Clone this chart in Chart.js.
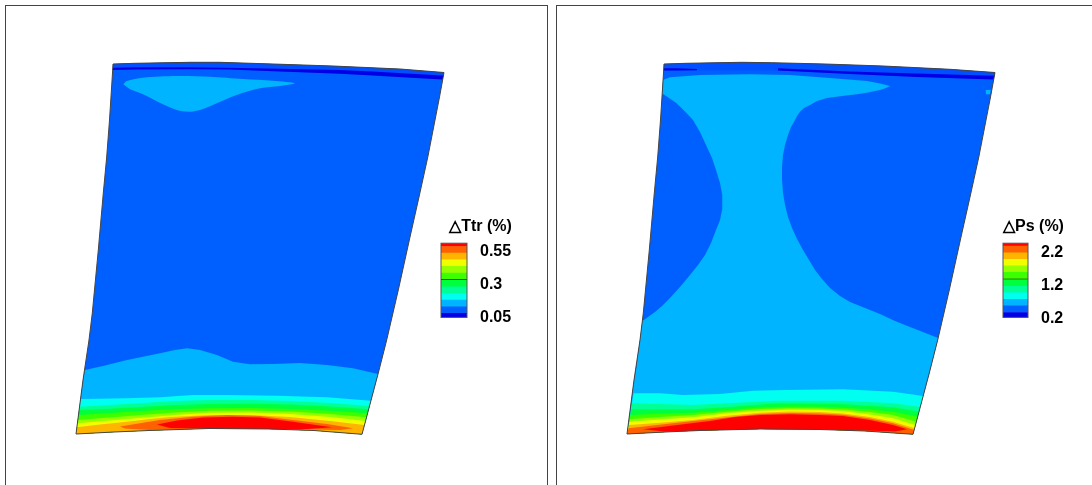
<!DOCTYPE html>
<html>
<head>
<meta charset="utf-8">
<title>Ttr and Ps contours</title>
<script src="https://cdn.jsdelivr.net/npm/chart.js@4"></script>
<style>
  html, body { margin: 0; padding: 0; background: #fff; overflow: hidden; }
  body { width: 1092px; height: 485px; position: relative; }
  canvas { position: absolute; }
  .frame { position: absolute; top: 5px; height: 480px; border-top: 1px solid #444; border-left: 1px solid #444; box-sizing: border-box; }
</style>
</head>
<body>
<div class="frame" style="left:5px;width:543px;border-right:1px solid #444"></div>
<div class="frame" style="left:556px;width:536px"></div>
<canvas id="campoTtr" width="552" height="485" style="left:0;top:0"></canvas>
<canvas id="campoPs" width="540" height="485" style="left:552px;top:0"></canvas>
<canvas id="barraTtr" width="90" height="135" style="left:430px;top:205px"></canvas>
<canvas id="barraPs" width="74" height="135" style="left:990px;top:205px"></canvas>
<script>
// Colores de los niveles, de menor a mayor
const colores = ["#0000e6", "#0060ff", "#00b4ff", "#00fff0", "#00ff96", "#00ff3c", "#3cff00", "#96ff00", "#f0ff00", "#ffb400", "#ff6000", "#ff0000"];
const colorFranja = "#0050ff";

// Barra de colores: ancho de cada banda y marcas
const bandasTtr = [0.07, 0.05, 0.05, 0.05, 0.05, 0.05, 0.05, 0.05, 0.05, 0.05, 0.05, 0.03];
const marcasTtr = [0.05, 0.3, 0.55];
const bandasPs = [0.32, 0.2, 0.2, 0.2, 0.2, 0.2, 0.2, 0.2, 0.2, 0.2, 0.2, 0.11];
const marcasPs = [0.2, 1.2, 2.2];

// ---- Campo Ttr (contornos)
const ttrSup = [[113,64],[135,63.3],[190,62.3],[220,62.3],[273,64],[333,66],[400,69],[444,72.5]];
const ttrDer = [[444,72.5],[439.5,97],[427.8,157],[419,197],[410,237],[398.3,290],[386.7,340],[378.3,373],[362,434.3]];
const ttrInf = [[362,434.3],[314,430.5],[269,429],[209,428.5],[149,430.5],[114,432],[76,434]];
const ttrIzq = [[76,434],[83,380],[89,340],[92.3,313],[98.3,250],[103.3,193],[106.7,157],[109.5,120],[112.7,70],[113,64]];

const ttrFranja = [[113,64],[135,63.3],[190,62.3],[220,62.3],[273,64],[333,66],[400,69],[444,72.5],[442.7,79.5],[407,77.5],[373,75.5],[340,73.7],[267,71],[230,69.5],[190,69.3],[135,69.5],[112.7,70]];
const ttrNavy = [[113,67.7],[135,67.2],[190,67.2],[240,68],[267,68.5],[340,70],[373,71.5],[407,73.5],[443.3,75.5],[442.7,79.5],[407,77.5],[373,75.5],[340,73.7],[267,71],[230,69.5],[190,69.3],[135,69.5],[112.7,70]];
const ttrManchaSup = [[123.3,84.3],[126.7,81],[143,77.7],[176.7,76],[210,76.7],[243,79],[273,80.7],[295,83.3],[280,86],[260,88.3],[236.7,95],[216.7,103.3],[203,109],[190,111.7],[176.7,110],[163,104.3],[143,94.3],[130,89.3]];

const ttrCielo = [[85,370],[103,366],[127,360],[160,353.3],[175,350],[187,348.3],[200,350],[217,355],[233,361.7],[250,364.3],[273,364],[300,363],[327,365],[353,368.3],[378,374]];
const ttrCian = [[80.5,399],[127,398.3],[160,397.3],[193,395],[227,395],[277,395.7],[327,397.3],[371,400.7]];
const ttrPrimavera = [[79.7,406.7],[110,405],[140,403.3],[175,401],[210,400],[250,400],[290,401],[330,403],[369.5,406]];
const ttrVerde = [[79.2,410],[110,408.7],[140,407],[175,405],[210,404],[250,403.8],[290,404.5],[330,406.5],[368.6,409.3]];
const ttrLima = [[78.6,415],[110,413],[140,411],[175,409.3],[210,408.3],[250,408],[290,409],[330,410.8],[367.5,413.3]];
const ttrAmarilloVerde = [[77.9,420],[110,417.5],[140,415],[175,412.5],[210,410.7],[250,410.5],[290,411.5],[330,414],[366.5,417.3]];
const ttrAmarillo = [[77.4,423.3],[110,420.5],[140,418],[175,415],[210,412.7],[250,412.5],[290,414],[330,417],[365.5,421]];
const ttrNaranja = [[76.9,427.3],[100,424.5],[127,421.7],[150,419],[170,417],[210,415],[250,415],[290,417],[330,421],[364.4,425]];
const ttrNaranjaRojo = [[120,426.5],[143,422.7],[160,420],[193,416.7],[227,415],[260,416],[293,420],[327,424],[353,428.3],[340,430],[269,429],[209,428.5],[149,430],[125,428.5]];
const ttrRojo = [[157,424.5],[177,420.5],[203,417.5],[233,416.7],[260,417.5],[293,421.7],[332,427.3],[300,429.5],[269,429],[209,428.5],[170,428]];

// ---- Campo Ps
const psSup = [[664,64],[686,63.3],[741.7,62.3],[771.7,62.7],[825,64],[883,66],[950,69.3],[995,72.5]];
const psDer = [[995,72.5],[990.5,97],[978.8,157],[970,197],[961,237],[949.3,290],[937.7,340],[929.3,373],[913,434.3]];
const psInf = [[913,434.3],[865,431],[820,429.5],[760,429],[700,430.5],[665,432],[627,434]];
const psIzq = [[627,434],[634,380],[640,340],[643.3,313],[649.3,250],[654.3,193],[657.7,157],[660.5,120],[663.7,70],[664,64]];

const psFranja = [[664,64],[686,63.3],[741.7,62.3],[771.7,62.7],[825,64],[883,66],[950,69.3],[995,72.5],[993.7,79.5],[917,77],[850,74],[778,70.5],[697,70.5],[663.7,70.5]];
const psNavyIzq = [[664,68.2],[677,68.2],[697,69],[697,70.3],[677,70.5],[663.7,70.5]];
const psNavyDer = [[778,68.3],[850,71.5],[917,73.5],[994.3,75.7],[993.7,79.5],[917,77],[850,74],[778,70.5]];
const psManchaBorde = [[985.7,90],[990.7,90],[990,94.3],[986,94.3]];
const psCielo = [[663,80],[670,77.3],[700,75],[750,74.3],[790,75],[833,78.3],[867,81],[880,83.5],[890,86],[886,88],[880,90],[868,92.5],[857,94.3],[842,96],[827,98],[817,101],[810,105],[804,108],[800,111.7],[797,116],[795,120],[791,127],[788,135],[785,145],[783,155],[782,167],[782,180],[783,193],[785,205],[788,217],[792,228],[797,239],[803,250],[809,260],[815,270],[822,279],[830,288],[840,296],[850,302],[865,308],[880,314],[895,321],[910,327],[938.2,338],[929.3,373],[913,434.3],[865,431],[820,429.5],[760,429],[700,430.5],[665,432],[627,434],[634,380],[636,370],[642.4,321],[655,312],[662,306],[670,298],[680,287],[690,275],[698,265],[705,255],[711,243],[716,230],[720,220],[722,210],[722.5,203],[722,195],[720,183],[716,170],[712,158],[706,145],[700,132],[693,120],[686.7,113.3],[676.7,103.3],[662,93.3]];

const psCian = [[633.6,393.3],[660,393.3],[683,395],[720,394],[753,390.7],[787,390],[843,389.3],[893,391.7],[923.2,396]];
const psPrimavera = [[632.1,403.3],[693,405],[727,403.3],[777,400.7],[843,400.7],[893,403.3],[920.3,407]];
const psVerde = [[631.4,409.3],[693,409.3],[727,407.3],[777,403.3],[810,403.6],[843,404.3],[893,407.3],[919,411.7]];
const psLima = [[630.6,415],[660,413.7],[693,412.7],[727,410],[760,407.5],[790,406.5],[820,406.8],[843,407.7],[870,409.5],[893,411.7],[917.7,416.7]];
const psAmarilloVerde = [[630,419.3],[660,417],[693,415],[727,411.7],[760,409],[790,408.2],[820,408.5],[843,409.5],[870,412],[893,415],[916.4,421.7]];
const psAmarillo = [[629.6,421.7],[660,419.5],[693,417.3],[727,413.3],[760,410.8],[790,409.8],[820,410],[843,411],[870,414.5],[893,418.3],[915.5,425]];
const psNaranja = [[629.2,425],[660,422.7],[693,420],[727,415.7],[760,412.7],[790,411.5],[820,412],[843,413.5],[870,417],[893,421.7],[914.6,428.3]];
const psNaranjaRojo = [[628.8,428.3],[677,422.7],[710,419.3],[735,416.5],[760,414],[790,413],[820,413.5],[843,414.8],[870,418.5],[893,423.3],[914.2,430]];
const psRojo = [[643,429.3],[677,425],[710,421],[735,417],[760,415],[790,414.3],[820,415],[843,416],[870,420],[893,425],[907,429.3],[895,431.5],[865,430.5],[820,429.5],[760,429],[700,430.5],[665,431.5]];

// Une una curva con el borde inferior para cerrar la banda
function conBorde(curva, borde) {
    return curva.concat(borde);
}

function capa(puntos, color, suave) {
    return {
        data: puntos,
        showLine: true,
        fill: "shape",
        backgroundColor: color,
        borderWidth: 0,
        pointRadius: 0,
        tension: suave ? 0.3 : 0
    };
}

function campo(id, xMin, xMax, capas, contorno) {
    // el primer dataset queda encima, por eso se invierte el orden
    const datasets = capas.slice().reverse();
    datasets.unshift({
        data: contorno,
        showLine: true,
        fill: false,
        borderColor: "#444",
        borderWidth: 1,
        pointRadius: 0
    });
    new Chart(document.getElementById(id), {
        type: "scatter",
        data: { datasets: datasets },
        options: {
            responsive: false,
            animation: false,
            plugins: { legend: { display: false }, tooltip: { enabled: false } },
            scales: {
                x: { display: false, min: xMin, max: xMax },
                y: { display: false, min: 0, max: 485, reverse: true }
            }
        }
    });
}

const contornoTtr = ttrSup.concat(ttrDer, ttrInf, ttrIzq);
campo("campoTtr", 0, 552, [
    capa(contornoTtr, colores[1]),
    capa(ttrFranja, colorFranja),
    capa(ttrNavy, colores[0]),
    capa(ttrManchaSup, colores[2], true),
    capa(conBorde(ttrCielo, ttrInf.concat([[83,380]])), colores[2]),
    capa(conBorde(ttrCian, ttrInf), colores[3]),
    capa(conBorde(ttrPrimavera, ttrInf), colores[4]),
    capa(conBorde(ttrVerde, ttrInf), colores[5]),
    capa(conBorde(ttrLima, ttrInf), colores[6]),
    capa(conBorde(ttrAmarilloVerde, ttrInf), colores[7]),
    capa(conBorde(ttrAmarillo, ttrInf), colores[8]),
    capa(conBorde(ttrNaranja, ttrInf), colores[9]),
    capa(ttrNaranjaRojo, colores[10]),
    capa(ttrRojo, colores[11])
], contornoTtr);

const contornoPs = psSup.concat(psDer, psInf, psIzq);
campo("campoPs", 552, 1092, [
    capa(contornoPs, colores[1]),
    capa(psFranja, colorFranja),
    capa(psNavyIzq, colores[0]),
    capa(psNavyDer, colores[0]),
    capa(psCielo, colores[2]),
    capa(psManchaBorde, colores[2]),
    capa(conBorde(psCian, psInf), colores[3]),
    capa(conBorde(psPrimavera, psInf), colores[4]),
    capa(conBorde(psVerde, psInf), colores[5]),
    capa(conBorde(psLima, psInf), colores[6]),
    capa(conBorde(psAmarilloVerde, psInf), colores[7]),
    capa(conBorde(psAmarillo, psInf), colores[8]),
    capa(conBorde(psNaranja, psInf), colores[9]),
    capa(conBorde(psNaranjaRojo, psInf), colores[10]),
    capa(psRojo, colores[11])
], contornoPs);

// Marco de la barra de colores
const marcoBarra = {
    id: "marcoBarra",
    afterDraw(chart) {
        const a = chart.chartArea;
        const ctx = chart.ctx;
        ctx.save();
        ctx.strokeStyle = "#555";
        ctx.lineWidth = 1;
        ctx.strokeRect(a.left, a.top, a.right - a.left, a.bottom - a.top);
        ctx.restore();
    }
};

function barra(id, titulo, bandas, marcas, yMin, yMax, linea, izq, anchoEje) {
    const datasets = [];
    bandas.forEach((b, i) => {
        datasets.push({ data: [b], backgroundColor: colores[i], barPercentage: 1, categoryPercentage: 1 });
        // linea negra entre la banda 6 y la 7
        if (i === 5) datasets.push({ data: [linea], backgroundColor: "#111", barPercentage: 1, categoryPercentage: 1 });
    });
    new Chart(document.getElementById(id), {
        type: "bar",
        data: { labels: [""], datasets: datasets },
        plugins: [marcoBarra],
        options: {
            responsive: false,
            animation: false,
            layout: { padding: { left: izq, top: 0, bottom: 17, right: 0 } },
            plugins: {
                legend: { display: false },
                tooltip: { enabled: false },
                title: {
                    display: true,
                    text: titulo,
                    color: "#000",
                    font: { family: "'Liberation Sans', Arial, sans-serif", size: 16, weight: "bold" },
                    padding: { top: 11.5, bottom: 7.5 }
                }
            },
            scales: {
                x: { display: false, stacked: true },
                y: {
                    position: "right",
                    stacked: true,
                    min: yMin,
                    max: yMax,
                    grid: { display: false, drawTicks: false },
                    border: { display: false },
                    afterBuildTicks(eje) { eje.ticks = marcas.map(v => ({ value: v })); },
                    afterFit(eje) { eje.width = anchoEje; },
                    ticks: {
                        color: "#000",
                        padding: 13,
                        crossAlign: "near",
                        autoSkip: false,
                        labelOffset: 2,
                        font: { family: "'Liberation Sans', Arial, sans-serif", size: 16, weight: "bold" },
                        callback: v => String(v)
                    }
                }
            }
        }
    });
}

barra("barraTtr", "△Ttr (%)", bandasTtr, marcasTtr, 0.04, 0.6, 0.005, 11, 53);
barra("barraPs", "△Ps (%)", bandasPs, marcasPs, 0.17, 2.43, 0.02, 13, 36);
</script>
</body>
</html>
